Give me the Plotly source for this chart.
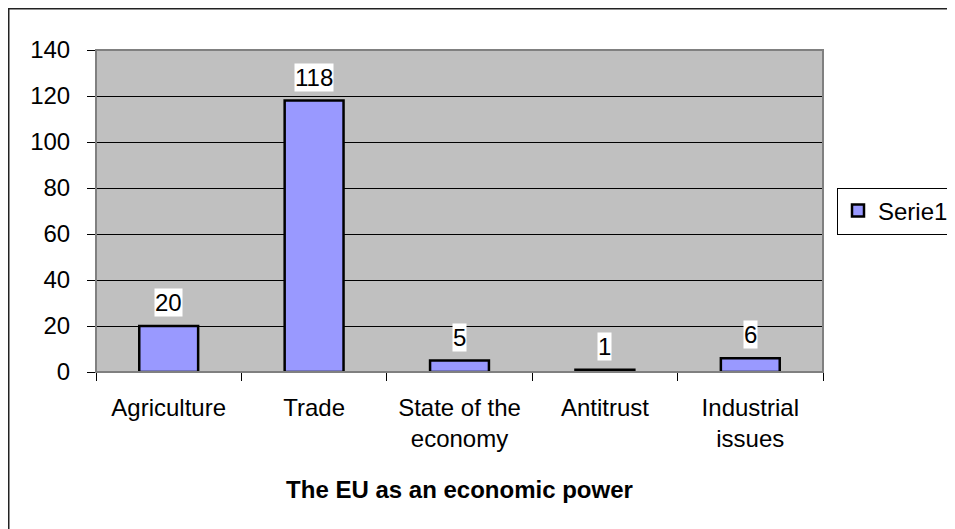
import plotly.graph_objects as go

categories = ["Agriculture", "Trade", "State of the<br>economy", "Antitrust", "Industrial<br>issues"]
values = [20, 118, 5, 1, 6]
series_name = "Serie1"
x_title = "The EU as an economic power"

# page body has an 8px margin; plot area on screen x 96..823, y 50..372
OFF = 8
W, H = 955, 529
L, T = 96 - OFF, 50 - OFF
pw, ph = 727, 322
R = W - L - pw
B = H - T - ph

def px_x(p):
    return (p - OFF - L) / pw

def px_y(p):
    return (T + ph - (p - OFF)) / ph

FONT = "Liberation Sans, Arial"

fig = go.Figure()
fig.add_trace(go.Bar(
    x=categories, y=values, name=series_name,
    marker=dict(color="#9999FF", line=dict(color="black", width=2.5)),
    showlegend=True,
))

for c, v in zip(categories, values):
    fig.add_annotation(
        x=c, y=v, text=str(v), showarrow=False, yanchor="bottom", yshift=9,
        bgcolor="white", borderpad=0,
        font=dict(family=FONT, size=24, color="black"),
    )

# outer chart frame (runs off right and bottom edges)
fig.add_shape(type="rect", xref="paper", yref="paper",
              x0=px_x(8.5), y0=px_y(560), x1=px_x(990), y1=px_y(8.5),
              line=dict(color="#222222", width=2), layer="below")

fig.update_layout(
    width=W, height=H,
    margin=dict(l=L, r=R, t=T, b=B, autoexpand=False),
    paper_bgcolor="white",
    plot_bgcolor="#C0C0C0",
    bargap=0.595,
    font=dict(family=FONT, size=24, color="black"),
    legend=dict(
        xref="container", yref="container",
        x=(837 - OFF) / W, y=1 - (211 - OFF) / H, xanchor="left", yanchor="middle",
        bgcolor="white", bordercolor="black", borderwidth=1,
        font=dict(size=24), itemwidth=30,
    ),
    xaxis=dict(
        title=dict(text="<b>" + x_title + "</b>", font=dict(size=24), standoff=30),
        showgrid=False, showline=True, linecolor="black", linewidth=1,
        ticks="outside", tickson="boundaries", ticklen=8, tickcolor="black",
        ticklabelstandoff=14,
    ),
    yaxis=dict(
        range=[0, 140], dtick=20, showgrid=True, gridcolor="black", gridwidth=1,
        showline=True, linecolor="#555555", linewidth=1,
        ticks="outside", ticklen=8, tickcolor="black",
        ticklabelstandoff=12, zeroline=False,
    ),
)

# grey frame around plot area
fig.add_shape(type="rect", xref="paper", yref="paper", x0=0, y0=0, x1=1, y1=1,
              line=dict(color="#808080", width=2))

fig.write_html("out.html")
